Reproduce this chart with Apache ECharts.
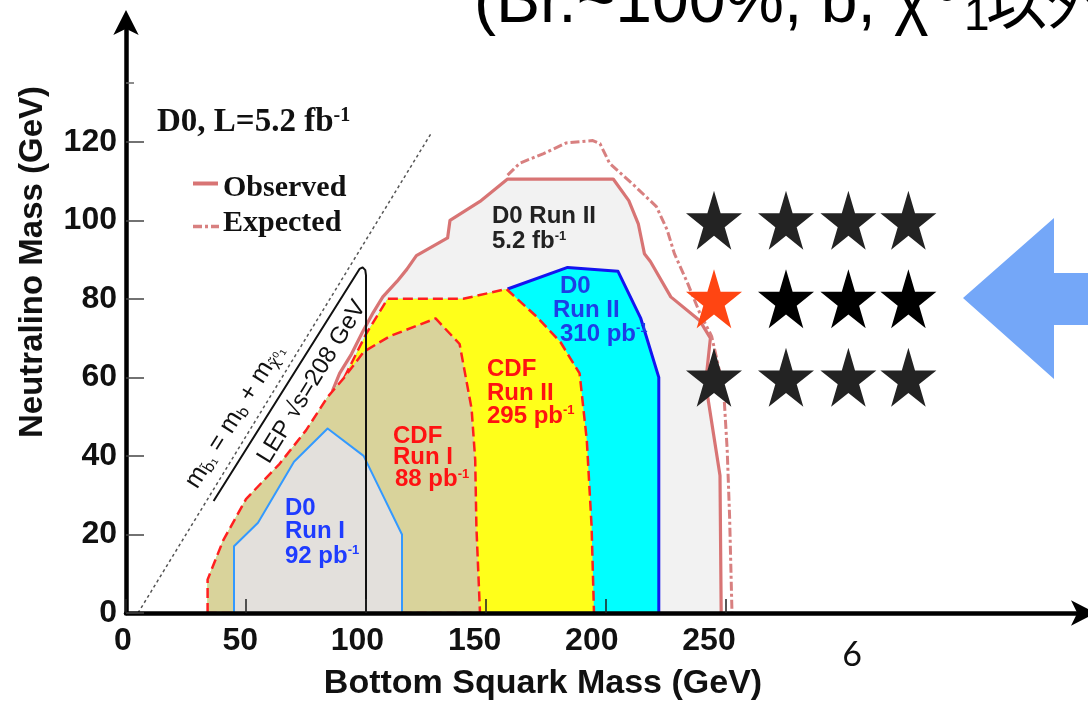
<!DOCTYPE html>
<html>
<head>
<meta charset="utf-8">
<script src="https://cdn.jsdelivr.net/npm/echarts@6/dist/echarts.min.js"></script>
<style>
  html, body { margin: 0; padding: 0; background: #ffffff; }
  #chart { width: 1088px; height: 703px; }
</style>
</head>
<body>
<div id="chart"></div>
<script>
// Sbottom -> b + neutralino exclusion limits, [bottom squark mass, neutralino mass] in GeV

// CDF Run I (88 pb^-1), closed contour
const cdfRun1Contour = [
  [34, 0], [34, 8.5], [40.5, 18.5], [50, 29], [64, 38], [75, 46.5], [84, 55],
  [91, 60], [99, 66.5], [110, 70.5], [129, 75], [139, 68.5], [144, 52],
  [145.5, 39], [146, 22], [147.5, 0]
];
// CDF Run II (295 pb^-1), outer edge beyond the Run I contour
const cdfRun2Edge = [
  [91, 60], [100, 71], [109, 80], [140.5, 80], [158.5, 82.5], [171, 75.5],
  [181, 69], [189, 61], [192, 44], [194, 22], [195, 0]
];
// D0 Run II (310 pb^-1), outer edge
const d0Run2Edge = [
  [159, 82.5], [184, 88], [205, 87], [214.5, 75], [222, 60], [222, 0]
];
// D0 Run I (92 pb^-1), closed contour
const d0Run1Contour = [
  [45, 0], [45, 17], [55, 23], [70, 38.5], [84, 47], [99, 40], [115, 20], [115, 0]
];
// D0 Run II (5.2 fb^-1) observed limit
const observedEdge = [
  [86, 56.5], [89, 61], [94, 66], [98.5, 71.5], [103, 76.5], [107, 80.5],
  [113, 84.5], [117, 87.5], [121, 91], [134, 95.5], [135, 100], [147.5, 104.8],
  [159, 110.5], [203, 110.5], [209.5, 105], [213.5, 99], [216, 91.5],
  [218.5, 89.5], [227, 80.5], [239, 74.5], [243.5, 70], [241.5, 58.5],
  [247.5, 35], [248, 0]
];
// D0 Run II (5.2 fb^-1) expected limit
const expectedEdge = [
  [159, 111.5], [164, 114.5], [174, 117], [183.5, 119.7], [194.5, 120.3],
  [197.5, 119.5], [201.5, 114.5], [211.5, 109], [221, 103.5], [225.5, 97.5],
  [228.5, 91.5], [234, 84], [239, 76.5], [244, 70.5], [249, 57],
  [250.5, 41.5], [251.5, 24.5], [252.5, 0]
];
// LEP sqrt(s)=208 GeV exclusion boundary
const lepBoundary = [
  [36.5, 28.5], [97.3, 87.6], [98.6, 88], [99.7, 87.3], [100, 86], [100, 0]
];
// kinematic limit m(sbottom) = m(b) + m(neutralino)
const kinematicLimit = [[5, 0], [127, 122]];

// benchmark grid marked with stars
const starMassX = [245, 275, 301, 326];
const starMassY = [100, 80, 60];

const xTickValues = [0, 50, 100, 150, 200, 250];
const yTickValues = [0, 20, 40, 60, 80, 100, 120];
const yMinorTickValues = [135];

const SANS = '"Liberation Sans", Arial, Helvetica, sans-serif';
const SERIF = '"Liberation Serif", "Times New Roman", serif';
const CJK = '"Noto Sans CJK JP", "Noto Sans CJK SC", sans-serif';

// lower-left boundary shared by every Tevatron region
const sharedLeftEdge = cdfRun1Contour.slice(0, 7);

const observedFill = sharedLeftEdge.concat(observedEdge);
const cdfRun2Fill = sharedLeftEdge.concat(cdfRun2Edge);
const d0Run2Fill = sharedLeftEdge.concat(cdfRun2Edge.slice(0, 5), d0Run2Edge);

function region(name, z, fillPts, fill, edgePts, edgeStyle, edgeClosed) {
  return {
    type: 'custom',
    name: name,
    z: z,
    silent: true,
    clip: false,
    data: fillPts || edgePts,
    encode: { x: 0, y: 1 },
    renderItem: function (params, api) {
      if (params.dataIndex !== 0) return null;
      const children = [];
      if (fillPts) {
        children.push({
          type: 'polygon',
          shape: { points: fillPts.map(function (p) { return api.coord(p); }) },
          style: { fill: fill, stroke: null }
        });
      }
      if (edgePts) {
        children.push({
          type: edgeClosed ? 'polygon' : 'polyline',
          shape: { points: edgePts.map(function (p) { return api.coord(p); }) },
          style: Object.assign({ fill: null, lineJoin: 'round' }, edgeStyle)
        });
      }
      return { type: 'group', children: children };
    }
  };
}

const redDash = { stroke: '#ff1f1f', lineWidth: 2.5, lineDash: [10, 5] };

const starData = [];
starMassY.forEach(function (y, r) {
  starMassX.forEach(function (x, c) {
    let color = '#232323';
    if (r === 1) color = c === 0 ? '#ff4512' : '#000000';
    starData.push({ value: [x, y], itemStyle: { color: color, opacity: 1 } });
  });
});

const STAR = 'path://M0,-100L22.45,-30.9L95.1,-30.9L36.33,11.8L58.8,80.9L0,38.2L-58.8,80.9L-36.33,11.8L-95.1,-30.9L-22.45,-30.9Z';

function textLine(x, baseline, str, color, fs, weight) {
  return {
    type: 'text', x: x, y: baseline - 0.36 * fs, silent: true, z: 30,
    style: {
      text: str, align: 'left', verticalAlign: 'middle', fill: color,
      rich: {
        t: { fontSize: fs, lineHeight: fs, fontFamily: SANS, fontWeight: weight || 'bold', fill: color },
        p: { fontSize: 13, lineHeight: 14, verticalAlign: 'top', fontFamily: SANS, fontWeight: weight || 'bold', fill: color }
      }
    }
  };
}

function plainText(x, y, str, fs, family, extra) {
  return {
    type: 'text', x: x, y: y, silent: true,
    style: Object.assign({ text: str, fontSize: fs, fontFamily: family, fill: '#000', align: 'left', verticalAlign: 'middle' }, extra || {})
  };
}

const red = '#ff1212';
const blue1 = '#1f3cff';
const blue2 = '#1d3ee6';

const graphics = [
  // title line at the top of the slide (mostly above the visible area)
  plainText(474, 4, '(Br.~100%, b, χ', 66, SANS),
  plainText(937, -9, '0', 36, SANS),
  plainText(964, 17, '1', 46, SANS),
  plainText(986, 1, '以外', 61, CJK),

  // legend block
  {
    type: 'text', x: 157, y: 122.2, silent: true,
    style: {
      text: '{a|D0, L=5.2 fb}{s|-1}', align: 'left', verticalAlign: 'middle',
      rich: {
        a: { fontSize: 33, lineHeight: 33, fontFamily: SERIF, fontWeight: 'bold', fill: '#111' },
        s: { fontSize: 20, lineHeight: 20, verticalAlign: 'top', fontFamily: SERIF, fontWeight: 'bold', fill: '#111' }
      }
    }
  },
  { type: 'line', silent: true, shape: { x1: 193, y1: 183.5, x2: 218, y2: 183.5 }, style: { stroke: '#d87474', lineWidth: 4 } },
  { type: 'line', silent: true, shape: { x1: 193, y1: 226.5, x2: 219, y2: 226.5 }, style: { stroke: '#d88080', lineWidth: 3.5, lineDash: [9, 3, 3, 3] } },
  plainText(223, 188.2, 'Observed', 30, SERIF, { fontWeight: 'bold', fill: '#111' }),
  plainText(223, 223.2, 'Expected', 30, SERIF, { fontWeight: 'bold', fill: '#111' }),

  // region labels
  textLine(492, 225, '{t|D0 Run II}', '#222', 24),
  textLine(492, 250.5, '{t|5.2 fb}{p|-1}', '#222', 24),
  textLine(560, 295, '{t|D0}', blue2, 24),
  textLine(553, 319.3, '{t|Run II}', blue2, 24),
  textLine(560, 342.7, '{t|310 pb}{p|-1}', blue2, 24),
  textLine(487, 378.3, '{t|CDF}', red, 24),
  textLine(487, 401.7, '{t|Run II}', red, 24),
  textLine(487, 425, '{t|295 pb}{p|-1}', red, 24),
  textLine(393, 445, '{t|CDF}', red, 24),
  textLine(393, 466, '{t|Run I}', red, 24),
  textLine(395, 488.3, '{t|88 pb}{p|-1}', red, 24),
  textLine(285, 516.7, '{t|D0}', blue1, 24),
  textLine(285, 540, '{t|Run I}', blue1, 24),
  textLine(285, 565, '{t|92 pb}{p|-1}', blue1, 24),

  // diagonal annotations
  {
    type: 'text', x: 312, y: 382, rotation: 58.5 * Math.PI / 180, silent: true, z: 30,
    style: { text: 'LEP √s=208 GeV', fontSize: 24, fontFamily: SANS, fill: '#111', align: 'center', verticalAlign: 'middle' }
  },
  {
    type: 'text', x: 235, y: 416, rotation: 58 * Math.PI / 180, silent: true, z: 30,
    style: {
      text: '{t|m}{s|b̃₁}{t| = m}{s|b}{t| + m}{s|χ̃⁰₁}', align: 'center', verticalAlign: 'middle',
      rich: {
        t: { fontSize: 25, lineHeight: 27, fontFamily: SANS, fill: '#111' },
        s: { fontSize: 15, lineHeight: 14, verticalAlign: 'bottom', fontFamily: '"DejaVu Sans", sans-serif', fill: '#111' }
      }
    }
  },

  // axis titles
  plainText(543, 684, 'Bottom Squark Mass (GeV)', 34, SANS, { fontWeight: 'bold', fill: '#111', align: 'center' }),
  {
    type: 'text', x: 33, y: 262, rotation: Math.PI / 2, silent: true,
    style: { text: 'Neutralino Mass (GeV)', fontSize: 33, fontWeight: 'bold', fontFamily: SANS, fill: '#111', align: 'center', verticalAlign: 'middle' }
  },

  // page number
  plainText(852, 655, '6', 34, 'Lato, "Open Sans", sans-serif', { fill: '#111', align: 'center' }),

  // arrow pointing at the highlighted row
  {
    type: 'polygon', silent: true,
    shape: { points: [[963, 298], [1054, 218], [1054, 273], [1100, 273], [1100, 325], [1054, 325], [1054, 379]] },
    style: { fill: '#74a7f8' }
  }
];

const tickFont = { fontSize: 32, fontWeight: 'bold', fontFamily: SANS, color: '#111' };

const option = {
  backgroundColor: '#ffffff',
  animation: false,
  grid: [
    { left: 126, right: 2, top: 20, bottom: 90, containLabel: false },
    // label strip for the bottom axis, set slightly narrower than the plot
    { left: 123, right: 27.4, top: 20, bottom: 90, containLabel: false }
  ],
  xAxis: [
    {
      gridIndex: 0, type: 'value', min: 0, max: 400, z: 10,
      splitLine: { show: false },
      axisLine: {
        show: true, symbol: ['none', 'arrow'], symbolSize: [19, 25], symbolOffset: [0, 10],
        lineStyle: { color: '#000', width: 4.5 }
      },
      axisTick: { show: true, inside: true, length: 14, customValues: xTickValues, lineStyle: { color: '#222', width: 1.5 } },
      axisLabel: { show: false }
    },
    {
      gridIndex: 1, type: 'value', min: 0, max: 400, z: 10,
      splitLine: { show: false },
      axisLine: { show: false },
      axisTick: { show: false },
      axisLabel: Object.assign({ customValues: xTickValues, margin: 12 }, tickFont)
    }
  ],
  yAxis: [
    {
      gridIndex: 0, type: 'value', min: 0, max: 151, z: 10,
      splitLine: { show: false },
      axisLine: {
        show: true, symbol: ['none', 'arrow'], symbolSize: [19, 25], symbolOffset: [0, 10],
        lineStyle: { color: '#000', width: 4.5 }
      },
      axisTick: { show: true, inside: true, length: 18, customValues: yTickValues, lineStyle: { color: '#444', width: 1.5 } },
      axisLabel: Object.assign({ customValues: yTickValues, margin: 9 }, tickFont)
    },
    { gridIndex: 1, type: 'value', min: 0, max: 151, show: false },
    {
      // short leftover tick near the top of the vertical axis
      gridIndex: 0, type: 'value', min: 0, max: 151, z: 10, position: 'left',
      splitLine: { show: false },
      axisLine: { show: false },
      axisTick: { show: true, inside: true, length: 8, customValues: yMinorTickValues, lineStyle: { color: '#666', width: 1.5 } },
      axisLabel: { show: false }
    }
  ],
  series: [
    region('D0 Run II observed', 2, observedFill, '#f2f2f2', observedEdge, { stroke: '#d87474', lineWidth: 3.2 }),
    region('D0 Run II expected', 3, null, null, expectedEdge, { stroke: '#d88080', lineWidth: 3, lineDash: [9, 3, 3, 3] }),
    region('D0 Run II 310 pb-1', 4, d0Run2Fill, '#00ffff', d0Run2Edge, { stroke: '#1414f0', lineWidth: 3 }),
    region('CDF Run II', 5, cdfRun2Fill, '#ffff1a', cdfRun2Edge, redDash),
    region('CDF Run I', 6, cdfRun1Contour, '#d9d39b', cdfRun1Contour, redDash, true),
    region('D0 Run I', 7, d0Run1Contour, '#e3e0dc', d0Run1Contour, { stroke: '#3399ff', lineWidth: 2 }, true),
    region('kinematic limit', 8, null, null, kinematicLimit, { stroke: '#555', lineWidth: 1.5, lineDash: [3, 3] }),
    region('LEP', 9, null, null, lepBoundary, { stroke: '#111', lineWidth: 2 }),
    {
      type: 'scatter', name: 'benchmarks', z: 20, silent: true,
      symbol: STAR, symbolSize: [56, 59],
      itemStyle: { opacity: 1 },
      data: starData
    }
  ],
  graphic: graphics
};

const chart = echarts.init(document.getElementById('chart'));
chart.setOption(option);
</script>
</body>
</html>
